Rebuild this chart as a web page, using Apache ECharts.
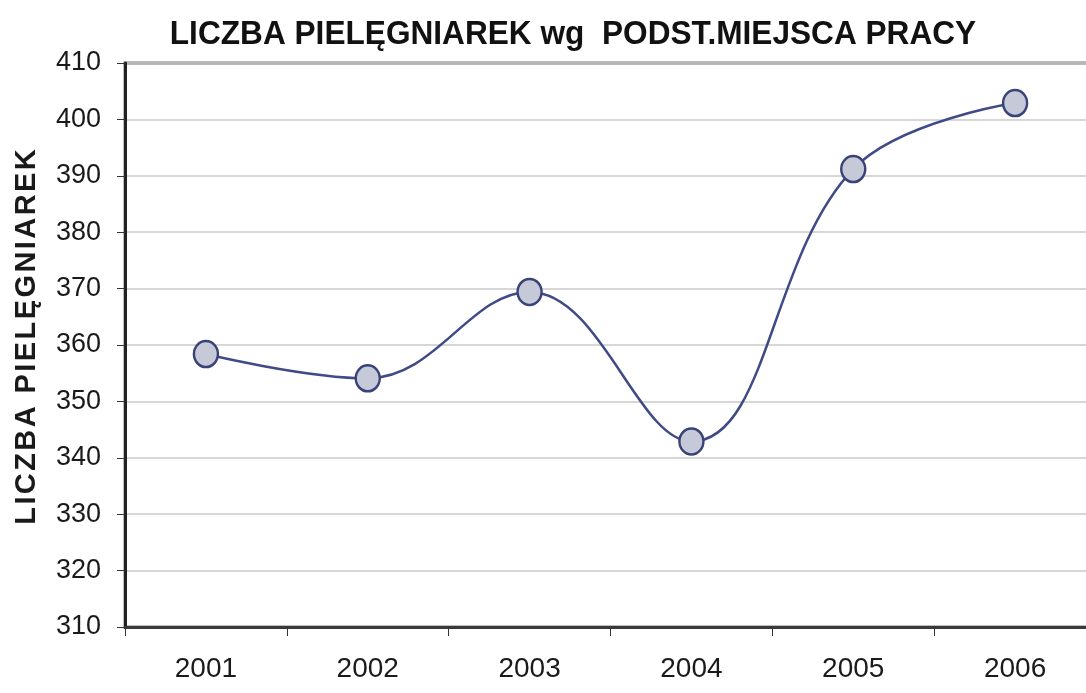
<!DOCTYPE html>
<html>
<head>
<meta charset="utf-8">
<script src="https://cdn.jsdelivr.net/npm/echarts@6/dist/echarts.min.js"></script>
<style>
  html, body { margin: 0; padding: 0; background: #fff; overflow: hidden; width: 1086px; height: 693px; }
  /* the plot runs past the right edge of the page */
  #chart { width: 1110px; height: 693px; }
</style>
</head>
<body>
<div id="chart"></div>
<script>
// Nurses by primary place of work, 2001-2006
const years = ['2001', '2002', '2003', '2004', '2005', '2006'];
const nurses = [358.4, 354.1, 369.4, 342.9, 391.2, 402.9];
const yTicks = { min: 310, max: 410, step: 10 };

const chartTitle = 'LICZBA PIELĘGNIAREK wg  PODST.MIEJSCA PRACY';
const yAxisTitle = 'LICZBA PIELĘGNIAREK';

// widen the vertical axis title a little with hair spaces between letters
const spaced = yAxisTitle.split('').join('\u200A');

const font = 'Liberation Sans, Arial, sans-serif';

const chart = echarts.init(document.getElementById('chart'));
chart.setOption({
  animation: false,
  backgroundColor: '#ffffff',
  graphic: [
    {
      type: 'text',
      x: 573,
      y: 35,
      scaleX: 0.93,
      style: {
        text: chartTitle,
        font: 'bold 34px ' + font,
        fill: '#111',
        textAlign: 'center',
        textVerticalAlign: 'middle'
      }
    },
    {
      type: 'text',
      x: 27,
      y: 337,
      rotation: Math.PI / 2,
      style: {
        text: spaced,
        font: 'bold 29px ' + font,
        fill: '#1a1a1a',
        textAlign: 'center',
        textVerticalAlign: 'middle'
      }
    }
  ],
  grid: {
    left: 125,
    top: 63,
    width: 971,
    height: 564,
    show: true,
    backgroundColor: '#ffffff',
    borderColor: '#7a7a7a',
    borderWidth: 3
  },
  xAxis: {
    type: 'category',
    data: years,
    boundaryGap: true,
    axisLine: { lineStyle: { color: '#3a3a3a', width: 3 } },
    axisTick: { show: true, length: 9, lineStyle: { color: '#333', width: 1 } },
    axisLabel: {
      margin: 28,
      fontFamily: font,
      fontSize: 28,
      color: '#1a1a1a'
    },
    splitLine: { show: false }
  },
  yAxis: {
    type: 'value',
    min: yTicks.min,
    max: yTicks.max,
    interval: yTicks.step,
    axisLine: { show: true, lineStyle: { color: '#222', width: 3 } },
    axisTick: { show: true, length: 8, lineStyle: { color: '#333', width: 1 } },
    axisLabel: {
      margin: 24,
      fontFamily: font,
      fontSize: 27,
      color: '#1a1a1a'
    },
    splitLine: { show: true, lineStyle: { color: '#cacaca', width: 1.5 } }
  },
  series: [{
    type: 'line',
    data: nurses,
    smooth: 0.4,
    symbol: 'circle',
    symbolSize: [24, 26],
    lineStyle: { color: '#3f4a86', width: 2.5 },
    itemStyle: { color: '#c6cad8', borderColor: '#3a4378', borderWidth: 2.5 },
    z: 5
  }]
});
</script>
</body>
</html>
